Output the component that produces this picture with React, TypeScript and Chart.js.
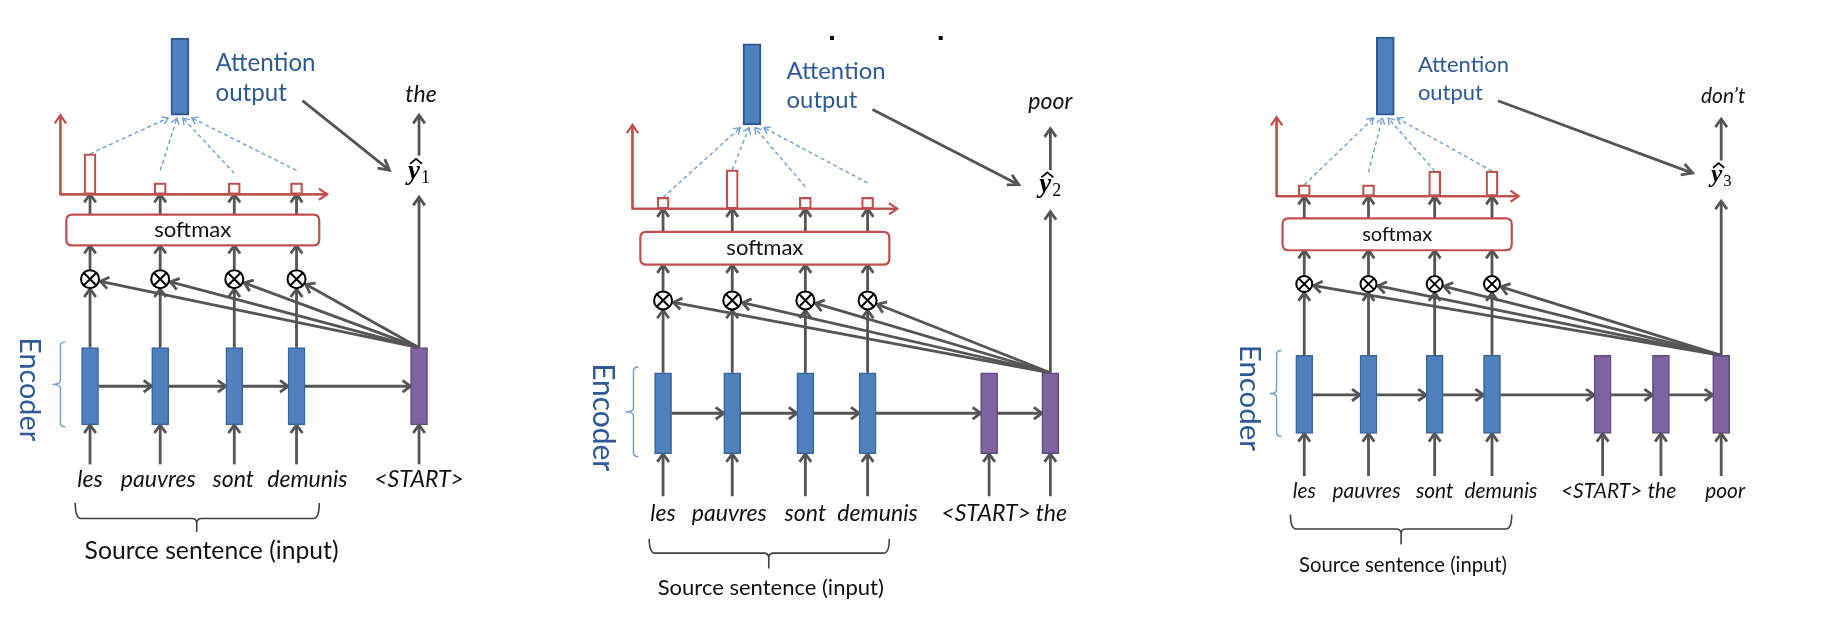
import { useEffect, useRef } from "react";
import { Chart, registerables } from "chart.js";

Chart.register(...registerables);

// ---------------- data ----------------
const sourceWords = ["les", "pauvres", "sont", "demunis"];
const decoderInputs = ["<START>", "the", "poor"];
const outputWords = ["the", "poor", "don\u2019t"];
const stepIndex = ["1", "2", "3"];
const attentionWeights = [
  [0.5, 0.14, 0.14, 0.14],
  [0.14, 0.48, 0.14, 0.14],
  [0.14, 0.14, 0.31, 0.31],
];
const labelAttention = ["Attention", "output"];
const labelSoftmax = "softmax";
const labelEncoder = "Encoder";
const labelSource = "Source sentence (input)";

// ---------------- layout (page units) ----------------
const W = 1831;
const H = 623;
const panels = [
  {
    cols: [80, 151, 226, 289], dec: [413], wordDx: [0, -2, -1, 11], decDx: [0], outDx: 2,
    blockTop: 349, blockBot: 429, hY: 389, inBot: 470, wordBase: 493, wordW: 75,
    otY: 278, r: 9,
    smx: [56, 312, 211, 243], smxW: 77,
    axX: 50, axY: 190, axTop: 108, axRight: 320, barScale: 84, lift: [0, 13, 10, 13],
    attn: [171, 28, 108], attnTx: 207, attnBase: [62, 93], attnW: 100,
    outArrow: [295, 93, 383, 165], outBase: 94, upArrow: [150, 108], yhatBase: 174, decUpTop: 193,
    enc: { x: 50, y0: 343, y1: 431, tip: 42, tx: 19, ty: 392, tw: 104 },
    src: { x0: 65, x1: 312, y0: 510, y1: 526, tipX: 188, tipY: 540, tx: 203, base: 568, tw: 254 },
    fs: 1,
  },
  {
    cols: [660, 730, 804, 867], dec: [990, 1052], wordDx: [0, -3, 0, 10], decDx: [-3, 1], outDx: 0,
    blockTop: 375, blockBot: 459, hY: 417, inBot: 503, wordBase: 529, wordW: 75,
    otY: 300, r: 9,
    smx: [637, 889, 229, 263], smxW: 77,
    axX: 629, axY: 205, axTop: 118, axRight: 897, barScale: 84, lift: [0, 0, 11, 15],
    attn: [750, 34, 118], attnTx: 785, attnBase: [71, 101], attnW: 99,
    outArrow: [872, 102, 1020, 180], outBase: 102, upArrow: [165, 122], yhatBase: 188, decUpTop: 208,
    enc: { x: 630, y0: 369, y1: 462, tip: 622, tx: 599, ty: 421, tw: 108 },
    src: { x0: 646, x1: 889, y0: 547, y1: 562, tipX: 767, tipY: 578, tx: 769, base: 605, tw: 226 },
    fs: 1,
  },
  {
    cols: [1309, 1374, 1441, 1499], dec: [1611, 1670, 1731], wordDx: [0, -2, 0, 9], decDx: [-1, 1, 4], outDx: 2,
    blockTop: 357, blockBot: 438, hY: 398, inBot: 482, wordBase: 505, wordW: 68,
    otY: 283, r: 8,
    smx: [1287, 1519, 215, 248], smxW: 70,
    axX: 1281, axY: 192, axTop: 110, axRight: 1526, barScale: 84, lift: [0, 13, 0, 0],
    attn: [1391, 27, 108], attnTx: 1424, attnBase: [63, 92], attnW: 91,
    outArrow: [1505, 93, 1702, 168], outBase: 95, upArrow: [155, 112], yhatBase: 177, decUpTop: 197,
    enc: { x: 1281, y0: 352, y1: 441, tip: 1274, tx: 1254, ty: 401, tw: 106 },
    src: { x0: 1295, x1: 1519, y0: 522, y1: 537, tipX: 1407, tipY: 553, tx: 1409, base: 582, tw: 208 },
    fs: 0.93,
  },
];
const stray = [
  [831, 28],
  [941, 28],
];

// ---------------- styles ----------------
const GRAY = "#555555";
const RED = "#c0504d";
const DASH = "#6d9fd6";
const BLUE_TXT = "#2d5a96";
const FONT = "Lato, 'Open Sans', 'Liberation Sans', sans-serif";
const SERIF = "'Liberation Serif', 'DejaVu Serif', serif";

function arrow(ctx: CanvasRenderingContext2D, x0: number, y0: number, x1: number, y1: number, color = GRAY, lw = 2.8, head = 10, ang = 0.62, dash: number[] = []) {
  ctx.save();
  ctx.strokeStyle = color;
  ctx.lineWidth = lw;
  ctx.lineCap = "butt";
  ctx.setLineDash(dash);
  ctx.beginPath();
  ctx.moveTo(x0, y0);
  ctx.lineTo(x1, y1);
  ctx.stroke();
  ctx.setLineDash([]);
  const a = Math.atan2(y1 - y0, x1 - x0);
  ctx.lineJoin = "miter";
  ctx.beginPath();
  ctx.moveTo(x1 - head * Math.cos(a - ang), y1 - head * Math.sin(a - ang));
  ctx.lineTo(x1, y1);
  ctx.lineTo(x1 - head * Math.cos(a + ang), y1 - head * Math.sin(a + ang));
  ctx.stroke();
  ctx.restore();
}

function fitFont(ctx: CanvasRenderingContext2D, text: string, style: string, family: string, target: number) {
  ctx.font = `${style} 100px ${family}`;
  const w = ctx.measureText(text).width;
  const size = (100 * target) / w;
  ctx.font = `${style} ${size.toFixed(2)}px ${family}`;
  return size;
}

const diagramPlugin = {
  id: "diagram",
  beforeDatasetsDraw(chart: any) {
    const ctx: CanvasRenderingContext2D = chart.ctx;
    const xs = chart.scales.x;
    const ys = chart.scales.y;
    const X = (v: number) => xs.getPixelForValue(v);
    const Y = (v: number) => ys.getPixelForValue(v);
    panels.forEach((p, pi) => {
      const bw = 8.5;
      const chain = [...p.cols, ...p.dec];
      // recurrent arrows
      for (let i = 0; i < chain.length - 1; i++) {
        arrow(ctx, X(chain[i] + bw), Y(p.hY), X(chain[i + 1] - bw), Y(p.hY));
      }
      // input arrows
      chain.forEach((c) => arrow(ctx, X(c), Y(p.inBot), X(c), Y(p.blockBot)));
      // encoder states -> otimes
      p.cols.forEach((c) => arrow(ctx, X(c), Y(p.blockTop), X(c), Y(p.otY + p.r + 1)));
      // decoder state -> otimes
      const d = p.dec[p.dec.length - 1];
      p.cols.forEach((c) => {
        const sx = X(d), sy = Y(p.blockTop);
        const cx = X(c), cy = Y(p.otY);
        const len = Math.hypot(sx - cx, sy - cy);
        const ux = (sx - cx) / len, uy = (sy - cy) / len;
        arrow(ctx, sx, sy, cx + ux * (p.r + 1.5), cy + uy * (p.r + 1.5));
      });
      // otimes -> softmax
      p.cols.forEach((c) => arrow(ctx, X(c), Y(p.otY - p.r - 1), X(c), Y(p.smx[3])));
      // softmax -> distribution
      p.cols.forEach((c) => arrow(ctx, X(c), Y(p.smx[2]), X(c), Y(p.axY)));
      // softmax box
      ctx.save();
      ctx.strokeStyle = RED;
      ctx.fillStyle = "#ffffff";
      ctx.lineWidth = 2.2;
      const [sx0, sx1, sy0, sy1] = [X(p.smx[0]), X(p.smx[1]), Y(p.smx[2]), Y(p.smx[3])];
      const rr = 6;
      ctx.beginPath();
      ctx.moveTo(sx0 + rr, sy0);
      ctx.lineTo(sx1 - rr, sy0);
      ctx.quadraticCurveTo(sx1, sy0, sx1, sy0 + rr);
      ctx.lineTo(sx1, sy1 - rr);
      ctx.quadraticCurveTo(sx1, sy1, sx1 - rr, sy1);
      ctx.lineTo(sx0 + rr, sy1);
      ctx.quadraticCurveTo(sx0, sy1, sx0, sy1 - rr);
      ctx.lineTo(sx0, sy0 + rr);
      ctx.quadraticCurveTo(sx0, sy0, sx0 + rr, sy0);
      ctx.fill();
      ctx.stroke();
      ctx.restore();
      // red axes
      ctx.save();
      ctx.strokeStyle = RED;
      ctx.lineWidth = 2.2;
      ctx.beginPath();
      ctx.moveTo(X(p.axX), Y(p.axTop));
      ctx.lineTo(X(p.axX), Y(p.axY));
      ctx.lineTo(X(p.axRight), Y(p.axY));
      ctx.stroke();
      ctx.restore();
      arrow(ctx, X(p.axX), Y(p.axY), X(p.axX), Y(p.axTop), RED, 2.2, 10, 0.6);
      arrow(ctx, X(p.axX), Y(p.axY), X(p.axRight), Y(p.axY), RED, 2.2, 10, 0.6);
      // dashed lines to attention output
      const spread = [-12, -3, 3, 12];
      p.cols.forEach((c, i) => {
        const top = p.axY - attentionWeights[pi][i] * p.barScale - p.lift[i];
        arrow(ctx, X(c), Y(top), X(p.attn[0] + spread[i]), Y(p.attn[2] + 3), DASH, 1.4, 7, 0.6, [4, 3]);
      });
      // decoder up to y-hat
      arrow(ctx, X(d), Y(p.blockTop), X(d), Y(p.decUpTop));
      // y-hat up to output word
      arrow(ctx, X(d), Y(p.upArrow[0]), X(d), Y(p.upArrow[1]));
      // attention output -> y-hat
      const oa = p.outArrow;
      arrow(ctx, X(oa[0]), Y(oa[1]), X(oa[2]), Y(oa[3]), GRAY, 2.8, 12, 0.5);
      // encoder brace
      ctx.save();
      ctx.strokeStyle = DASH;
      ctx.lineWidth = 1.4;
      const e = p.enc;
      const mid = (e.y0 + e.y1) / 2;
      ctx.beginPath();
      ctx.moveTo(X(e.x + 5), Y(e.y0));
      ctx.quadraticCurveTo(X(e.x), Y(e.y0), X(e.x), Y(e.y0 + 4));
      ctx.lineTo(X(e.x), Y(mid - 4));
      ctx.quadraticCurveTo(X(e.x), Y(mid), X(e.tip), Y(mid));
      ctx.quadraticCurveTo(X(e.x), Y(mid), X(e.x), Y(mid + 4));
      ctx.lineTo(X(e.x), Y(e.y1 - 4));
      ctx.quadraticCurveTo(X(e.x), Y(e.y1), X(e.x + 5), Y(e.y1));
      ctx.stroke();
      ctx.restore();
      // source brace
      ctx.save();
      ctx.strokeStyle = "#404040";
      ctx.lineWidth = 1.6;
      const s = p.src;
      ctx.beginPath();
      ctx.moveTo(X(s.x0), Y(s.y0));
      ctx.quadraticCurveTo(X(s.x0), Y(s.y1), X(s.x0 + 6), Y(s.y1));
      ctx.lineTo(X(s.tipX - 5), Y(s.y1));
      ctx.quadraticCurveTo(X(s.tipX), Y(s.y1), X(s.tipX), Y(s.y1 + 5));
      ctx.lineTo(X(s.tipX), Y(s.tipY));
      ctx.moveTo(X(s.tipX), Y(s.y1 + 5));
      ctx.quadraticCurveTo(X(s.tipX), Y(s.y1), X(s.tipX + 5), Y(s.y1));
      ctx.lineTo(X(s.x1 - 6), Y(s.y1));
      ctx.quadraticCurveTo(X(s.x1), Y(s.y1), X(s.x1), Y(s.y0));
      ctx.stroke();
      ctx.restore();
    });
    // stray dots
    ctx.save();
    ctx.fillStyle = "#000";
    stray.forEach(([x, y]) => ctx.fillRect(X(x) - 2, Y(y) - 2, 4, 4));
    ctx.restore();
  },
  afterDatasetsDraw(chart: any) {
    const ctx: CanvasRenderingContext2D = chart.ctx;
    const xs = chart.scales.x;
    const ys = chart.scales.y;
    const X = (v: number) => xs.getPixelForValue(v);
    const Y = (v: number) => ys.getPixelForValue(v);
    panels.forEach((p, pi) => {
      ctx.save();
      ctx.textBaseline = "alphabetic";
      // words
      ctx.fillStyle = "#111";
      ctx.textAlign = "center";
      const wsize = fitFont(ctx, "pauvres", "italic", FONT, p.wordW);
      sourceWords.forEach((w, i) => ctx.fillText(w, X(p.cols[i] + p.wordDx[i]), Y(p.wordBase)));
      p.dec.forEach((c, i) => ctx.fillText(decoderInputs[i], X(c + p.decDx[i]), Y(p.wordBase)));
      const d = p.dec[p.dec.length - 1];
      ctx.font = `italic ${wsize.toFixed(2)}px ${FONT}`;
      ctx.fillText(outputWords[pi], X(d + p.outDx), Y(p.outBase));
      // softmax label
      ctx.textBaseline = "middle";
      fitFont(ctx, labelSoftmax, "normal", FONT, p.smxW);
      ctx.fillText(labelSoftmax, X((p.smx[0] + p.smx[1]) / 2), Y((p.smx[2] + p.smx[3]) / 2));
      // source label
      ctx.textBaseline = "alphabetic";
      fitFont(ctx, labelSource, "normal", FONT, p.src.tw);
      ctx.fillText(labelSource, X(p.src.tx), Y(p.src.base));
      // attention output label
      ctx.fillStyle = BLUE_TXT;
      ctx.textAlign = "left";
      const asz = fitFont(ctx, labelAttention[0], "normal", FONT, p.attnW);
      ctx.fillText(labelAttention[0], X(p.attnTx), Y(p.attnBase[0]));
      ctx.font = `normal ${asz.toFixed(2)}px ${FONT}`;
      ctx.fillText(labelAttention[1], X(p.attnTx), Y(p.attnBase[1]));
      // encoder label (rotated)
      ctx.save();
      ctx.translate(X(p.enc.tx), Y(p.enc.ty));
      ctx.rotate(Math.PI / 2);
      ctx.textAlign = "center";
      ctx.textBaseline = "middle";
      fitFont(ctx, labelEncoder, "normal", FONT, p.enc.tw);
      ctx.fillText(labelEncoder, 0, 0);
      ctx.restore();
      // y-hat
      ctx.fillStyle = "#000";
      ctx.strokeStyle = "#000";
      ctx.textAlign = "right";
      ctx.font = `italic bold ${(27 * p.fs).toFixed(1)}px ${SERIF}`;
      const bx = X(d + 1);
      const by = Y(p.yhatBase);
      ctx.fillText("y", bx, by);
      const yw = ctx.measureText("y").width;
      ctx.lineWidth = 1.8;
      ctx.beginPath();
      ctx.moveTo(bx - yw + 2, by - 15 * p.fs);
      ctx.lineTo(bx - yw / 2 + 2, by - 20 * p.fs);
      ctx.lineTo(bx + 2, by - 15 * p.fs);
      ctx.stroke();
      ctx.textAlign = "left";
      ctx.font = `${(18 * p.fs).toFixed(1)}px ${SERIF}`;
      ctx.fillText(stepIndex[pi], bx + 1, by + 4);
      ctx.restore();
    });
  },
};

// ---------------- datasets built from data + layout ----------------
const otimesPoints = panels.flatMap((p) => p.cols.map((c) => ({ x: c, y: p.otY })));
const otimesRadius = panels.flatMap((p) => p.cols.map(() => p.r));
const weightBars = panels.flatMap((p, pi) =>
  sourceWords.map((_, i) => ({ x: p.cols[i], y: [p.axY, p.axY - attentionWeights[pi][i] * p.barScale] }))
);
const encoderBlocks = panels.flatMap((p) => sourceWords.map((_, i) => ({ x: p.cols[i], y: [p.blockTop, p.blockBot] })));
const decoderBlocks = panels.flatMap((p) => p.dec.map((c) => ({ x: c, y: [p.blockTop, p.blockBot] })));
const attnBlocks = panels.map((p) => ({ x: p.attn[0], y: [p.attn[1], p.attn[2]] }));

export default function App() {
  const ref = useRef<HTMLCanvasElement | null>(null);
  useEffect(() => {
    if (!ref.current) return;
    const chart = new Chart(ref.current, {
      type: "scatter",
      data: {
        datasets: [
          {
            type: "scatter",
            data: otimesPoints,
            pointStyle: "crossRot",
            pointRadius: otimesRadius,
            borderColor: "#000",
            borderWidth: 2,
            backgroundColor: "rgba(0,0,0,0)",
          } as any,
          {
            type: "scatter",
            data: otimesPoints,
            pointStyle: "circle",
            pointRadius: otimesRadius,
            borderColor: "#000",
            borderWidth: 2,
            backgroundColor: "#ffffff",
          } as any,
          {
            type: "bar",
            data: weightBars,
            backgroundColor: "#ffffff",
            borderColor: RED,
            borderWidth: 2.2,
            barThickness: 12,
            grouped: false,
            borderSkipped: false,
          } as any,
          {
            type: "bar",
            data: encoderBlocks,
            backgroundColor: "#4f81bd",
            borderColor: "#3a659a",
            borderWidth: 1.5,
            barThickness: 17,
            grouped: false,
            borderSkipped: false,
          } as any,
          {
            type: "bar",
            data: decoderBlocks,
            backgroundColor: "#8064a2",
            borderColor: "#5f4a7c",
            borderWidth: 1.5,
            barThickness: 17,
            grouped: false,
            borderSkipped: false,
          } as any,
          {
            type: "bar",
            data: attnBlocks,
            backgroundColor: "#4f81bd",
            borderColor: "#2f5590",
            borderWidth: 2,
            barThickness: 18,
            grouped: false,
            borderSkipped: false,
          } as any,
        ],
      },
      options: {
        responsive: false,
        maintainAspectRatio: false,
        animation: false,
        events: [],
        layout: { padding: 0 },
        plugins: { legend: { display: false }, tooltip: { enabled: false } },
        scales: {
          x: { type: "linear", min: 0, max: W, display: false, offset: false },
          y: { type: "linear", min: 0, max: H, reverse: true, display: false, offset: false },
        },
      } as any,
      plugins: [diagramPlugin as any],
    });
    return () => chart.destroy();
  }, []);
  return (
    <div style={{ position: "fixed", left: 0, top: 0, width: W, height: H, background: "#fff" }}>
      <canvas ref={ref} width={W} height={H} style={{ width: W, height: H, display: "block" }} />
    </div>
  );
}
